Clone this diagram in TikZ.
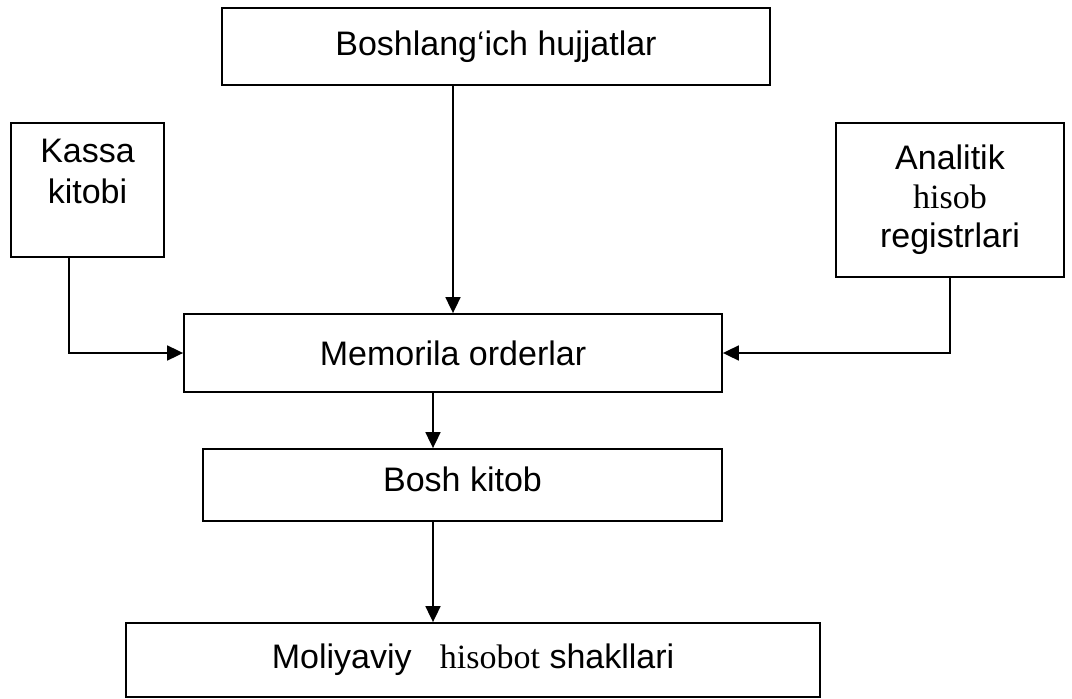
\documentclass[tikz,border=0pt]{standalone}
\usepackage{fontspec}
\setmainfont{Liberation Sans}
\newfontfamily\serifword{Liberation Serif}
\usetikzlibrary{arrows.meta}
\begin{document}
\begin{tikzpicture}[x=1pt,y=-1pt,
  box/.style={draw, line width=1.8pt, align=center, inner sep=0pt,
    font=\fontsize{34}{41}\selectfont},
  flow/.style={line width=1.8pt, -{Triangle[length=16pt,width=15pt]}}]
\useasboundingbox (0,0) rectangle (1072,699);

% boxes
\node[box, minimum width=548pt, minimum height=77pt] (doc) at (496,46.5) {Boshlang‘ich hujjatlar};
\node[box, minimum width=153pt, minimum height=134pt] (kassa) at (87.5,190) {Kassa\\kitobi\\[-4pt]\mbox{}};
\node[box, minimum width=228pt, minimum height=154pt] (anal) at (950,200)
  {Analitik\\[-2pt]{\serifword hisob}\\[-2pt]registrlari};
\node[box, minimum width=538pt, minimum height=78pt] (mem) at (453,353) {Memorila orderlar};
\node[box, minimum width=519pt, minimum height=72pt] (bosh) at (462.5,485)
  {Bosh kitob\\[-30pt]\mbox{}};
\node[box, minimum width=694pt, minimum height=74pt] (mol) at (473,660)
  {Moliyaviy \ \ {\serifword hisobot} shakllari};

% vertical spine of the lower arrows, and the drop from the cash book
\coordinate (spine) at (433,0);
\coordinate (kx) at (69,0);

% connectors
\draw[flow] (doc.south -| mem.north) -- (mem.north);
\draw[flow] (kassa.south -| kx) |- (mem.west);
\draw[flow] (anal.south) |- (mem.east);
\draw[flow] (mem.south -| spine) -- (bosh.north -| spine);
\draw[flow] (bosh.south -| spine) -- (mol.north -| spine);
\end{tikzpicture}
\end{document}
